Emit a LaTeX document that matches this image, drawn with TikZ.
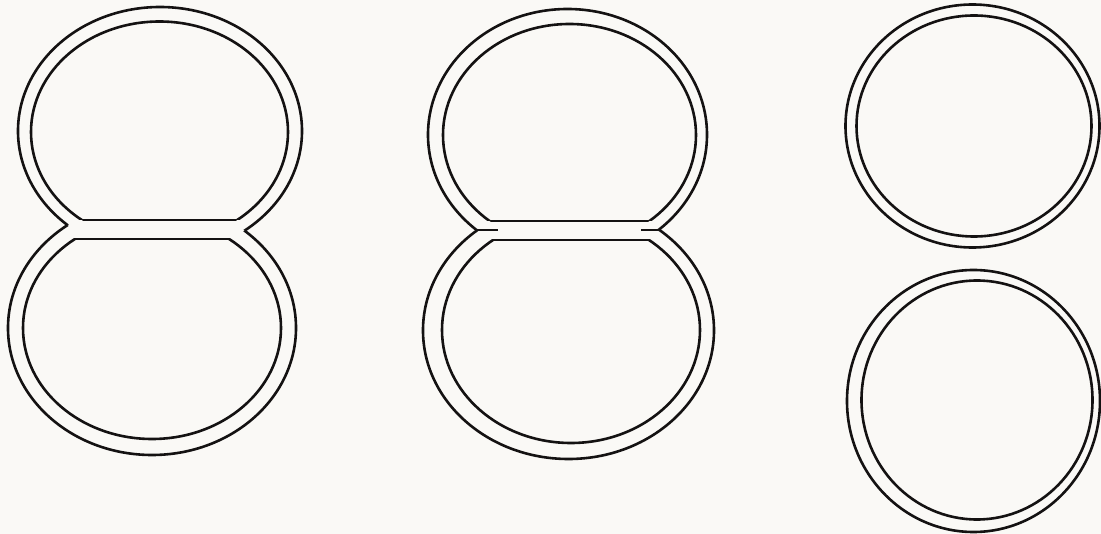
\documentclass[tikz,border=0pt]{standalone}
\definecolor{paper}{RGB}{250,249,246}
\definecolor{ink}{RGB}{20,18,18}
\tikzset{
  ring/.style={draw=ink, line width=2.6pt},
}
\newcommand{\outside}[4]{(-20,-20) rectangle (1121,554) (#1,#2) ellipse [x radius=#3, y radius=#4]}
\begin{document}
\begin{tikzpicture}[x=1pt,y=-1pt]
\fill[paper] (0,0) rectangle (1101,534);
\useasboundingbox (0,0) rectangle (1101,534);

% ---------- left figure-eight (closed joint) ----------
\begin{scope}[even odd rule]
  \clip \outside{152}{328}{144}{127};
  \draw[ring] (160,131) ellipse [x radius=142, y radius=124];
\end{scope}
\begin{scope}[even odd rule]
  \clip \outside{160}{131}{142}{124};
  \draw[ring] (152,328) ellipse [x radius=144, y radius=127];
\end{scope}
\begin{scope}
  \clip (-20,-20) rectangle (1121,220);
  \draw[ring] (159.5,132) ellipse [x radius=128.5, y radius=110.5];
\end{scope}
\begin{scope}
  \clip (159.5,132) ellipse [x radius=128.5, y radius=110.5];
  \draw[ring] (0,220) -- (400,220);
\end{scope}
\begin{scope}
  \clip (-20,239) rectangle (1121,554);
  \draw[ring] (152,328) ellipse [x radius=129, y radius=111];
\end{scope}
\begin{scope}
  \clip (152,328) ellipse [x radius=129, y radius=111];
  \draw[ring] (0,239) -- (400,239);
\end{scope}

% ---------- middle figure-eight (joint with stubs) ----------
\begin{scope}[even odd rule]
  \clip \outside{568.5}{330.4}{145.5}{128.6};
  \draw[ring] (567.5,134.7) ellipse [x radius=139.5, y radius=125.7];
\end{scope}
\begin{scope}[even odd rule]
  \clip \outside{567.5}{134.7}{139.5}{125.7};
  \draw[ring] (568.5,330.4) ellipse [x radius=145.5, y radius=128.6];
\end{scope}
\begin{scope}
  \clip (-20,-20) rectangle (1121,221);
  \draw[ring] (569.5,135) ellipse [x radius=126.5, y radius=111];
\end{scope}
\begin{scope}
  \clip (569.5,135) ellipse [x radius=126.5, y radius=111];
  \draw[ring] (400,221) -- (800,221);
\end{scope}
\begin{scope}
  \clip (-20,240) rectangle (1121,554);
  \draw[ring] (571,330) ellipse [x radius=129, y radius=113];
\end{scope}
\begin{scope}
  \clip (571,330) ellipse [x radius=129, y radius=113];
  \draw[ring] (400,240) -- (800,240);
\end{scope}
\coordinate (mL) at (477,230);
\coordinate (mLs) at (498,230);
\coordinate (mR) at (659,230);
\coordinate (mRs) at (641,230);
\draw[ring] (mL) -- (mLs);
\draw[ring] (mR) -- (mRs);

% ---------- right: two separate double rings ----------
\draw[ring] (972.5,126) ellipse [x radius=127, y radius=121.5];
\draw[ring] (974,126) ellipse [x radius=117.5, y radius=110.5];
\draw[ring] (973.5,401) ellipse [x radius=126.5, y radius=131];
\draw[ring] (977,400) ellipse [x radius=115.5, y radius=119.5];
\end{tikzpicture}
\end{document}
